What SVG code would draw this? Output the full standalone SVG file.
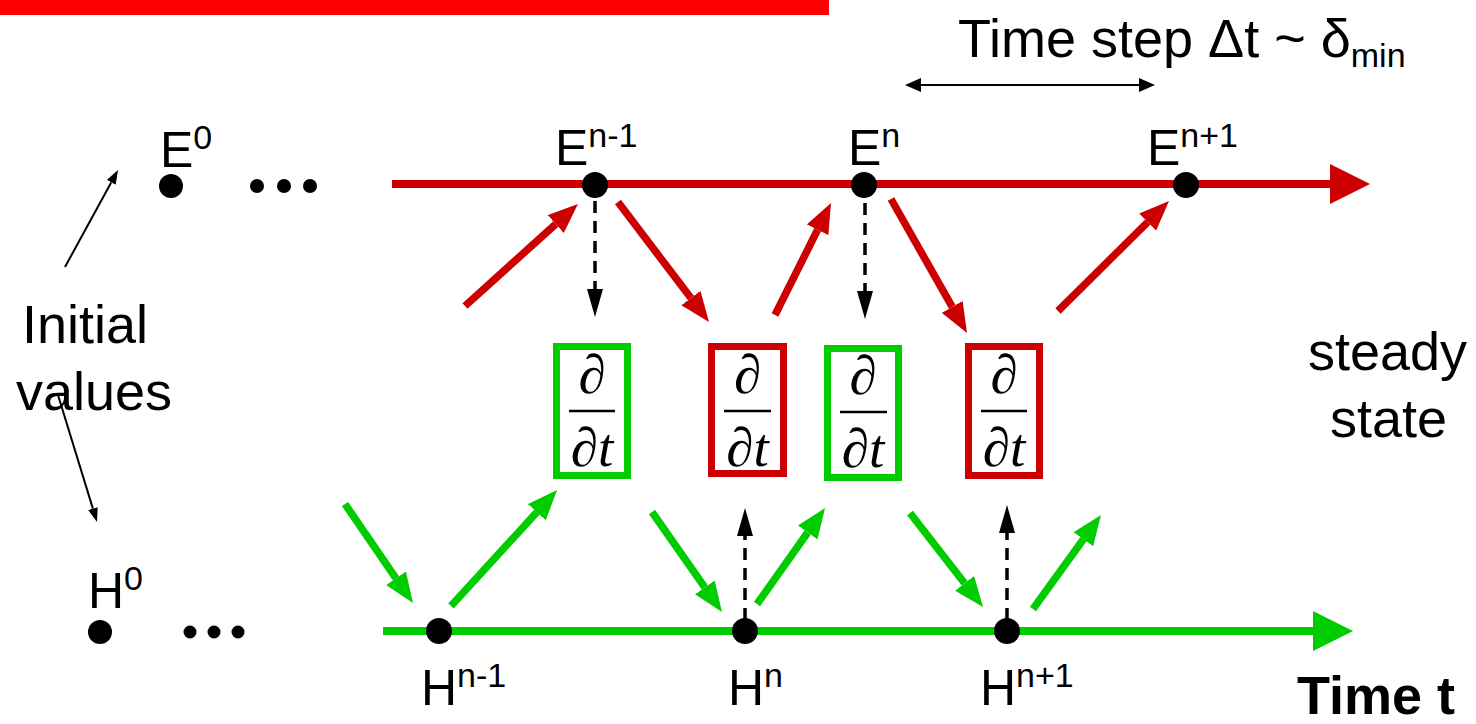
<svg xmlns="http://www.w3.org/2000/svg" width="1476" height="724" viewBox="0 0 1476 724">
  <style>
    .lbl { font-family: "Liberation Sans", Arial, sans-serif; font-size: 54px; fill: #000; }
    .nl { font-family: "Liberation Sans", Arial, sans-serif; font-size: 50px; fill: #000; }
    .sup { font-size: 34px; }
    .bold { font-weight: bold; }
    .frac { font-family: "Liberation Serif", "Times New Roman", serif; font-style: italic; font-size: 55px; fill: #000; text-anchor: middle; }
    .bar { stroke: #000; stroke-width: 2.5; }
    .red { stroke: #CC0000; fill: none; }
    .green { stroke: #00CC00; fill: none; }
    .thick { stroke-width: 7.5; }
    .axis { stroke-width: 8; }
    .dash { stroke: #000; stroke-width: 3.5; stroke-dasharray: 12 8; fill: none; }
    .thin { stroke: #000; stroke-width: 2; fill: none; }
    .node { fill: #000; }
    .boxg { fill: #fff; stroke: #00CC00; stroke-width: 7; }
    .boxr { fill: #fff; stroke: #CC0000; stroke-width: 7; }
  </style>
  <defs>
    <marker id="headR" markerUnits="userSpaceOnUse" markerWidth="30" markerHeight="24" refX="0" refY="12" orient="auto">
      <path d="M0,0 L30,12 L0,24 z" fill="#CC0000"/>
    </marker>
    <marker id="headG" markerUnits="userSpaceOnUse" markerWidth="30" markerHeight="24" refX="0" refY="12" orient="auto">
      <path d="M0,0 L30,12 L0,24 z" fill="#00CC00"/>
    </marker>
    <marker id="axisR" markerUnits="userSpaceOnUse" markerWidth="40" markerHeight="40" refX="0" refY="20" orient="auto">
      <path d="M0,0 L40,20 L0,40 z" fill="#CC0000"/>
    </marker>
    <marker id="axisG" markerUnits="userSpaceOnUse" markerWidth="40" markerHeight="40" refX="0" refY="20" orient="auto">
      <path d="M0,0 L40,20 L0,40 z" fill="#00CC00"/>
    </marker>
    <marker id="headK" markerUnits="userSpaceOnUse" markerWidth="28" markerHeight="16" refX="0" refY="8" orient="auto">
      <path d="M0,0 L28,8 L0,16 z" fill="#000"/>
    </marker>
    <marker id="headT" markerUnits="userSpaceOnUse" markerWidth="14" markerHeight="10" refX="0" refY="5" orient="auto">
      <path d="M0,0 L14,5 L0,10 z" fill="#000"/>
    </marker>
    <marker id="headD" markerUnits="userSpaceOnUse" markerWidth="16" markerHeight="14" refX="0" refY="7" orient="auto-start-reverse">
      <path d="M0,0 L16,7 L0,14 z" fill="#000"/>
    </marker>
  </defs>

  <!-- title rule -->
  <rect x="0" y="0" width="829" height="15" fill="#FF0000"/>

  <!-- time step annotation -->
  <g id="timestep">
    <text class="lbl" x="958" y="57">Time step Δt ~ δ<tspan class="sup" dy="10">min</tspan></text>
    <line class="thin" x1="921" y1="85" x2="1139" y2="85" marker-start="url(#headD)" marker-end="url(#headD)"/>
  </g>

  <!-- connectors -->
  <g id="connectors">
    <!-- time axes -->
    <line class="red axis" x1="392" y1="184" x2="1330" y2="184" marker-end="url(#axisR)"/>
    <line class="green axis" x1="383" y1="631" x2="1313" y2="631" marker-end="url(#axisG)"/>

    <!-- E updates -->
    <line class="red thick" x1="465" y1="306" x2="555.7" y2="224.1" marker-end="url(#headR)"/>
    <line class="red thick" x1="618" y1="202" x2="690.9" y2="298.1" marker-end="url(#headR)"/>
    <line class="red thick" x1="775" y1="315" x2="817.6" y2="229.8" marker-end="url(#headR)"/>
    <line class="red thick" x1="891" y1="199" x2="952.2" y2="306.9" marker-end="url(#headR)"/>
    <line class="red thick" x1="1058" y1="311" x2="1147.7" y2="222.1" marker-end="url(#headR)"/>

    <!-- H updates -->
    <line class="green thick" x1="345" y1="504" x2="396" y2="578.3" marker-end="url(#headG)"/>
    <line class="green thick" x1="451" y1="606" x2="536.8" y2="512.2" marker-end="url(#headG)"/>
    <line class="green thick" x1="652" y1="512" x2="704.8" y2="587.4" marker-end="url(#headG)"/>
    <line class="green thick" x1="757" y1="604" x2="807.7" y2="532.5" marker-end="url(#headG)"/>
    <line class="green thick" x1="910" y1="513" x2="964.6" y2="583.3" marker-end="url(#headG)"/>
    <line class="green thick" x1="1033" y1="609" x2="1083.4" y2="539.3" marker-end="url(#headG)"/>

    <!-- field values feeding derivatives -->
    <line class="dash" x1="595" y1="201" x2="595" y2="289" marker-end="url(#headK)"/>
    <line class="dash" x1="865" y1="203" x2="865" y2="291" marker-end="url(#headK)"/>
    <line class="dash" x1="745" y1="620" x2="745" y2="536" marker-end="url(#headK)"/>
    <line class="dash" x1="1007" y1="620" x2="1007" y2="533" marker-end="url(#headK)"/>

    <!-- initial value pointers -->
    <line class="thin" x1="65" y1="267" x2="111.3" y2="182.3" marker-end="url(#headT)"/>
    <line class="thin" x1="58" y1="395" x2="92.9" y2="508.6" marker-end="url(#headT)"/>
  </g>

  <!-- initial values -->
  <g id="initial">
    <text class="lbl" x="22" y="343">Initial</text>
    <text class="lbl" x="16" y="410">values</text>
  </g>

  <g id="E0">
    <circle class="node" cx="171" cy="186" r="12"/>
    <circle class="node" cx="257" cy="186" r="7"/>
    <circle class="node" cx="284" cy="186" r="7"/>
    <circle class="node" cx="310" cy="186" r="7"/>
    <text class="nl" x="160" y="167">E<tspan class="sup" dy="-18">0</tspan></text>
  </g>
  <g id="H0">
    <circle class="node" cx="100" cy="632" r="12"/>
    <circle class="node" cx="190" cy="632" r="6.5"/>
    <circle class="node" cx="214" cy="632" r="6.5"/>
    <circle class="node" cx="238" cy="632" r="6.5"/>
    <text class="nl" x="88" y="608">H<tspan class="sup" dy="-18">0</tspan></text>
  </g>

  <!-- E nodes -->
  <g id="E_nm1">
    <circle class="node" cx="595" cy="185" r="13"/>
    <text class="nl" x="555" y="165">E<tspan class="sup" dy="-18">n-1</tspan></text>
  </g>
  <g id="E_n">
    <circle class="node" cx="864" cy="185" r="13"/>
    <text class="nl" x="848" y="165">E<tspan class="sup" dy="-18">n</tspan></text>
  </g>
  <g id="E_np1">
    <circle class="node" cx="1186" cy="185" r="13"/>
    <text class="nl" x="1147" y="165">E<tspan class="sup" dy="-18">n+1</tspan></text>
  </g>

  <!-- H nodes -->
  <g id="H_nm1">
    <circle class="node" cx="439" cy="631" r="13"/>
    <text class="nl" x="421" y="705">H<tspan class="sup" dy="-18">n-1</tspan></text>
  </g>
  <g id="H_n">
    <circle class="node" cx="745" cy="631" r="13"/>
    <text class="nl" x="728" y="705">H<tspan class="sup" dy="-18">n</tspan></text>
  </g>
  <g id="H_np1">
    <circle class="node" cx="1007" cy="631" r="13"/>
    <text class="nl" x="980" y="705">H<tspan class="sup" dy="-18">n+1</tspan></text>
  </g>

  <!-- time derivative boxes -->
  <g id="dE1">
    <rect class="boxg" x="556.5" y="346.5" width="71" height="129"/>
    <text class="frac" x="592" y="393">∂</text>
    <line class="bar" x1="569" y1="411" x2="615" y2="411"/>
    <text class="frac" x="592" y="466">∂t</text>
  </g>
  <g id="dH1">
    <rect class="boxr" x="711.5" y="346.5" width="72" height="127"/>
    <text class="frac" x="747.5" y="393">∂</text>
    <line class="bar" x1="724" y1="411" x2="771" y2="411"/>
    <text class="frac" x="747.5" y="466">∂t</text>
  </g>
  <g id="dE2">
    <rect class="boxg" x="827.5" y="348.5" width="71" height="129"/>
    <text class="frac" x="863" y="394">∂</text>
    <line class="bar" x1="840" y1="412" x2="887" y2="412"/>
    <text class="frac" x="863" y="467">∂t</text>
  </g>
  <g id="dH2">
    <rect class="boxr" x="968.5" y="346.5" width="71" height="129"/>
    <text class="frac" x="1004" y="393">∂</text>
    <line class="bar" x1="981" y1="411" x2="1027" y2="411"/>
    <text class="frac" x="1004" y="466">∂t</text>
  </g>

  <g id="steady">
    <text class="lbl" x="1308" y="370">steady</text>
    <text class="lbl" x="1330" y="437">state</text>
  </g>
  <g id="timeaxis">
    <text class="lbl bold" x="1297" y="714">Time t</text>
  </g>
</svg>
